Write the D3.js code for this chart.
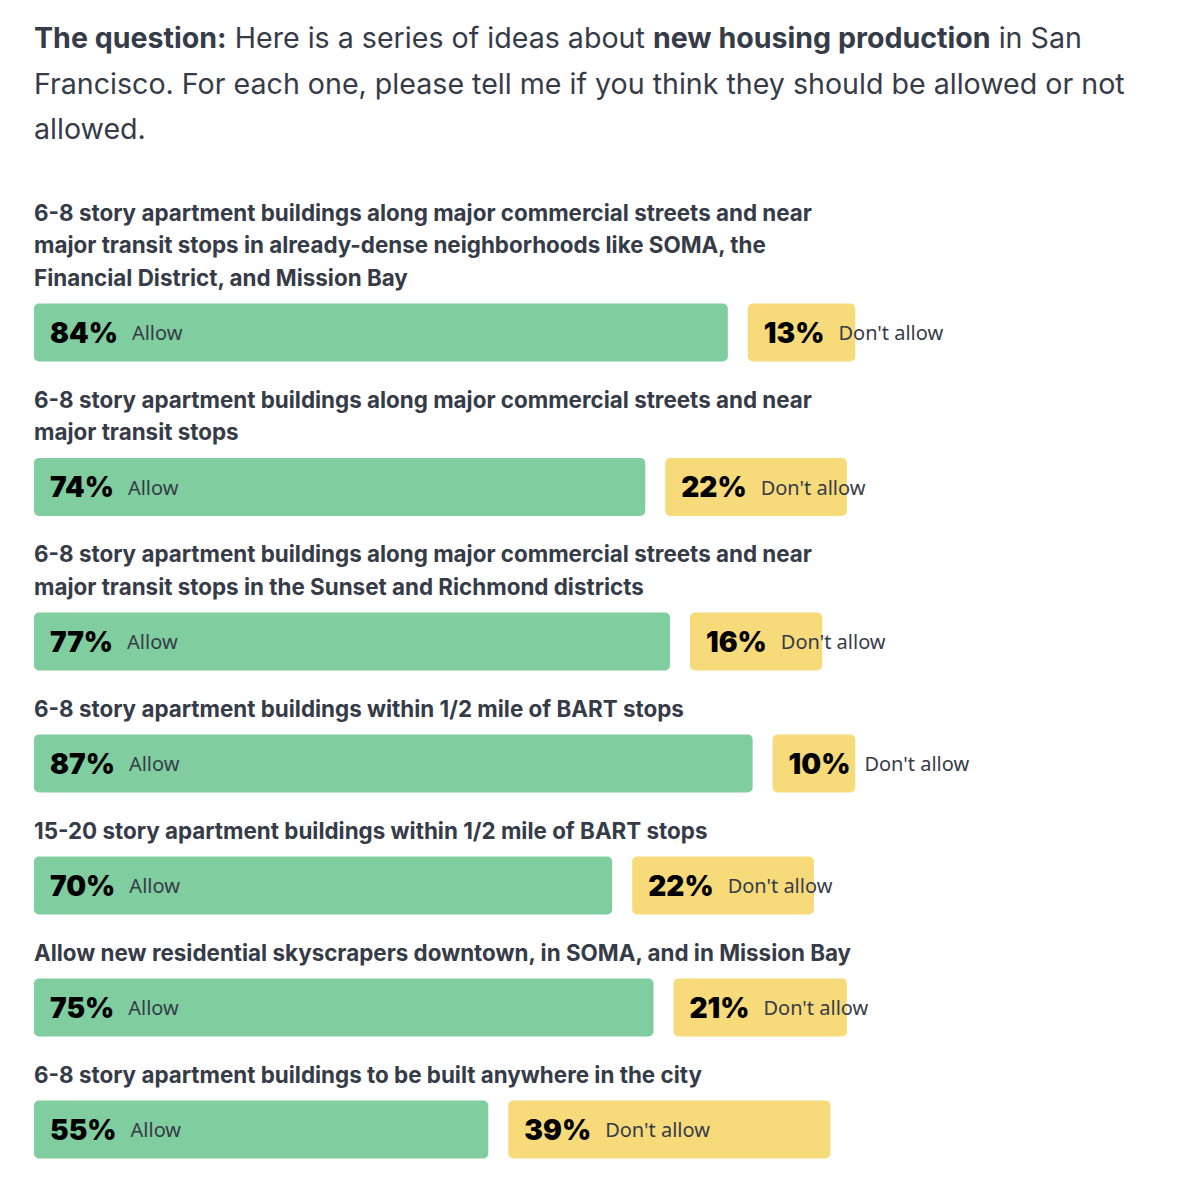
<!DOCTYPE html>
<html>
<head>
<meta charset="utf-8">
<script src="https://cdn.jsdelivr.net/npm/d3@7"></script>
<style>
  html, body { margin: 0; padding: 0; background: #fff; }
  svg { display: block; }
</style>
</head>
<body>
<script>
const questionLines = [
  [["The question:", 700], [" Here is a series of ideas about ", 400], ["new housing production", 700], [" in San", 400]],
  [["Francisco. For each one, please tell me if you think they should be allowed or not", 400]],
  [["allowed.", 400]]
];
const categories = [
  ["6-8 story apartment buildings along major commercial streets and near", "major transit stops in already-dense neighborhoods like SOMA, the", "Financial District, and Mission Bay"],
  ["6-8 story apartment buildings along major commercial streets and near", "major transit stops"],
  ["6-8 story apartment buildings along major commercial streets and near", "major transit stops in the Sunset and Richmond districts"],
  ["6-8 story apartment buildings within 1/2 mile of BART stops"],
  ["15-20 story apartment buildings within 1/2 mile of BART stops"],
  ["Allow new residential skyscrapers downtown, in SOMA, and in Mission Bay"],
  ["6-8 story apartment buildings to be built anywhere in the city"]
];
const allowValues = [84, 74, 77, 87, 70, 75, 55];
const dontAllowValues = [13, 22, 16, 10, 22, 21, 39];
const seriesNames = ["Allow", "Don't allow"];

const W = 1187, H = 1200;
const left = 34;
const svg = d3.select("body").append("svg").attr("width", W).attr("height", H);
svg.append("rect").attr("width", W).attr("height", H).attr("fill", "#fff");

const textColor = "#363b48";
const labelFont = "Inter, 'Noto Sans', sans-serif";
const smallFont = "'Noto Sans', sans-serif";
const pctFont = "Inter, Lato, sans-serif";

// question
const q = svg.append("g");
questionLines.forEach((line, i) => {
  const t = q.append("text")
    .attr("x", left).attr("y", 37 + i * 45.5)
    .attr("dominant-baseline", "central")
    .attr("font-family", labelFont).attr("font-size", 28.6)
    .attr("fill", textColor);
  line.forEach(([s, w]) => t.append("tspan").attr("font-weight", w).text(s));
});

const x = d3.scaleLinear().domain([0, 100]).range([0, 826]);
const barH = 58, gap = 20, lineH = 32.5;

let y = 212;
categories.forEach((lines, i) => {
  const g = svg.append("g");
  lines.forEach((l, j) => {
    g.append("text").attr("x", left).attr("y", y + j * lineH)
      .attr("dominant-baseline", "central")
      .attr("font-family", labelFont).attr("font-weight", 700).attr("font-size", 22.4)
      .attr("fill", textColor).text(l);
  });
  const barTop = y + (lines.length - 1) * lineH + 26.5;
  const cy = barTop + barH / 2;
  const segs = [
    {v: allowValues[i], x0: left, color: "#80cda0", name: seriesNames[0]},
    {v: dontAllowValues[i], x0: left + x(allowValues[i]) + gap, color: "#f7da7a", name: seriesNames[1]}
  ];
  segs.forEach(s => {
    g.append("rect").attr("x", s.x0).attr("y", barTop)
      .attr("width", x(s.v)).attr("height", barH).attr("rx", 5)
      .attr("fill", s.color);
    const pt = g.append("text").attr("x", s.x0 + 16).attr("y", cy)
      .attr("dominant-baseline", "central")
      .attr("font-family", pctFont).attr("font-weight", 900).attr("font-size", 28)
      .attr("fill", "#000").text(s.v + "%");
    const pw = pt.node().getComputedTextLength();
    g.append("text").attr("x", s.x0 + 16 + pw + 14).attr("y", cy)
      .attr("dominant-baseline", "central")
      .attr("font-family", smallFont).attr("font-weight", 400).attr("font-size", 20)
      .attr("fill", textColor).text(s.name);
  });
  y = barTop + barH + 37.5;
});
</script>
</body>
</html>
